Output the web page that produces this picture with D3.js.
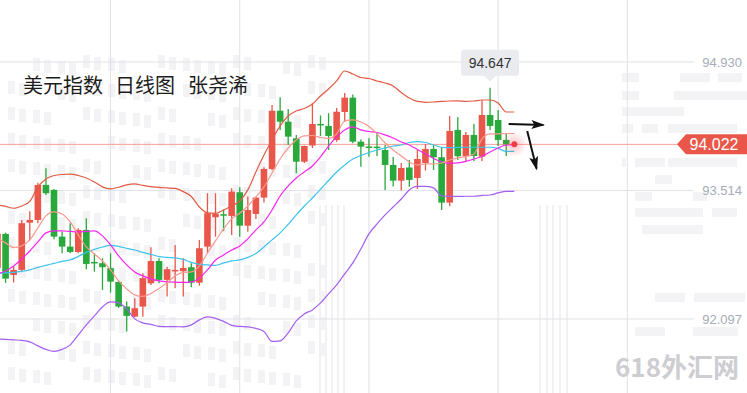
<!doctype html>
<html lang="zh">
<head>
<meta charset="utf-8">
<style>
  body { margin: 0; background: #fff; }
  svg { display: block; font-family: "Liberation Sans", Arial, sans-serif; }
</style>
</head>
<body>
<div id="chart"></div>
<script src="https://cdn.jsdelivr.net/npm/d3@7"></script>
<script>
  var width = 747, height = 393;

  // daily candles, oldest first (the first one is cut by the left edge)
  var opens = [92.660, 93.035, 92.583, 92.638, 93.159, 93.189, 93.575, 93.520, 93.005, 92.895,
    92.836, 93.079, 92.726, 92.712, 92.657, 92.506, 92.234, 92.123, 92.234, 92.491,
    92.737, 92.528, 92.627, 92.624, 92.668, 92.498, 92.895, 93.219, 93.252, 93.233,
    93.494, 93.126, 93.255, 93.435, 93.751, 94.393, 94.272, 94.089, 93.831, 94.010,
    94.247, 94.225, 94.071, 94.379, 94.537, 94.052, 93.999, 93.997, 93.960, 93.795,
    93.622, 93.767, 93.652, 93.817, 93.971, 93.880, 93.380, 94.181, 93.894, 94.126,
    93.887, 94.346, 94.291, 94.071];
  var highs = [93.079, 93.049, 92.674, 93.189, 93.285, 93.600, 93.759, 93.531, 93.060, 93.153,
    93.098, 93.208, 92.822, 92.767, 92.822, 92.517, 92.289, 92.326, 92.602, 92.888,
    92.767, 92.674, 92.914, 92.767, 92.712, 92.969, 93.483, 93.483, 93.305, 93.538,
    93.549, 93.446, 93.448, 93.770, 94.456, 94.541, 94.412, 94.126, 94.010, 94.475,
    94.340, 94.365, 94.423, 94.588, 94.572, 94.076, 94.089, 94.148, 94.015, 93.883,
    93.817, 93.850, 93.960, 94.026, 94.015, 93.993, 94.335, 94.324, 94.159, 94.247,
    94.506, 94.647, 94.401, 94.148];
  var lows = [92.616, 92.495, 92.498, 92.619, 92.961, 93.153, 93.464, 92.976, 92.822, 92.822,
    92.822, 92.646, 92.619, 92.418, 92.388, 92.219, 91.958, 92.116, 92.123, 92.473,
    92.491, 92.344, 92.436, 92.344, 92.447, 92.465, 92.822, 93.005, 93.068, 93.024,
    93.005, 93.060, 93.200, 93.380, 93.740, 94.181, 94.015, 93.704, 93.817, 93.982,
    94.115, 93.960, 94.052, 94.269, 94.034, 93.776, 93.886, 93.894, 93.520, 93.558,
    93.514, 93.556, 93.531, 93.734, 93.740, 93.299, 93.340, 93.850, 93.839, 93.839,
    93.839, 94.181, 94.004, 93.894];
  var closes = [93.035, 92.542, 92.638, 93.153, 93.189, 93.575, 93.483, 93.005, 92.895, 92.836,
    93.079, 92.704, 92.721, 92.668, 92.509, 92.234, 92.131, 92.216, 92.547, 92.737,
    92.528, 92.646, 92.638, 92.660, 92.498, 92.877, 93.263, 93.255, 93.236, 93.501,
    93.126, 93.299, 93.435, 93.751, 94.393, 94.272, 94.107, 93.831, 94.004, 94.247,
    94.236, 94.115, 94.382, 94.537, 94.052, 93.997, 93.988, 93.982, 93.795, 93.622,
    93.762, 93.630, 93.861, 93.971, 93.880, 93.380, 94.170, 93.891, 94.126, 93.894,
    94.346, 94.225, 94.071, 94.022];

  // indicator lines
  var ma5 = [92.991, 92.936, 92.886, 92.903, 92.969, 93.101, 93.233, 93.277, 93.255, 93.167,
    93.024, 92.891, 92.814, 92.737, 92.638, 92.517, 92.429, 92.363, 92.346, 92.379,
    92.434, 92.495, 92.572, 92.611, 92.616, 92.682, 92.825, 92.958, 93.090, 93.200,
    93.263, 93.343, 93.442, 93.553, 93.707, 93.861, 93.982, 94.071, 94.115, 94.120,
    94.098, 94.087, 94.137, 94.280, 94.291, 94.269, 94.219, 94.137, 94.037, 93.960,
    93.894, 93.828, 93.795, 93.806, 93.806, 93.817, 93.850, 93.872, 93.889, 93.916,
    94.082, 94.137, 94.137, 94.142];
  var ma10 = [92.594, 92.627, 92.682, 92.759, 92.847, 92.947, 93.046, 93.068, 93.068, 93.062,
    93.057, 93.062, 93.068, 93.013, 92.914, 92.792, 92.693, 92.616, 92.572, 92.539,
    92.517, 92.506, 92.503, 92.500, 92.506, 92.550, 92.638, 92.748, 92.803, 92.858,
    92.903, 92.980, 93.079, 93.167, 93.299, 93.453, 93.564, 93.652, 93.718, 93.784,
    93.883, 94.004, 94.104, 94.181, 94.214, 94.181, 94.164, 94.153, 94.126, 94.093,
    94.048, 94.015, 93.966, 93.916, 93.867, 93.828, 93.812, 93.817, 93.834, 93.861,
    93.889, 93.938, 93.982, 94.015];
  var bollUp = [93.354, 93.338, 93.318, 93.343, 93.393, 93.553, 93.641, 93.679, 93.690, 93.693,
    93.679, 93.652, 93.608, 93.553, 93.531, 93.549, 93.575, 93.586, 93.569, 93.556,
    93.547, 93.542, 93.536, 93.501, 93.448, 93.332, 93.266, 93.261, 93.299, 93.343,
    93.398, 93.520, 93.718, 93.905, 94.071, 94.225, 94.335, 94.390, 94.418, 94.467,
    94.555, 94.632, 94.721, 94.831, 94.798, 94.759, 94.748, 94.721, 94.699, 94.666,
    94.594, 94.533, 94.495, 94.486, 94.489, 94.495, 94.500, 94.502, 94.495, 94.500,
    94.511, 94.511, 94.478, 94.379];
  var bollMid = [92.602, 92.605, 92.611, 92.622, 92.638, 92.666, 92.688, 92.710, 92.732, 92.748,
    92.787, 92.831, 92.864, 92.891, 92.908, 92.897, 92.875, 92.858, 92.831, 92.809,
    92.785, 92.776, 92.770, 92.754, 92.721, 92.699, 92.693, 92.688, 92.715, 92.737,
    92.748, 92.776, 92.820, 92.891, 92.969, 93.046, 93.139, 93.244, 93.343, 93.431,
    93.525, 93.624, 93.718, 93.795, 93.861, 93.900, 93.933, 93.960, 93.982, 94.004,
    94.015, 94.043, 94.052, 94.043, 94.015, 93.990, 93.986, 93.988, 93.990, 93.990,
    93.990, 93.990, 93.977, 93.944];
  var bollLow = [91.878, 91.872, 91.867, 91.861, 91.845, 91.801, 91.762, 91.740, 91.762, 91.812,
    91.922, 92.032, 92.131, 92.230, 92.285, 92.274, 92.208, 92.098, 92.054, 92.038,
    92.015, 92.013, 92.013, 92.010, 92.032, 92.087, 92.120, 92.104, 92.071, 92.027,
    92.015, 92.010, 91.993, 91.960, 91.850, 91.856, 91.944, 92.076, 92.153, 92.197,
    92.274, 92.374, 92.473, 92.594, 92.715, 92.869, 93.035, 93.145, 93.244, 93.332,
    93.420, 93.520, 93.558, 93.558, 93.542, 93.453, 93.448, 93.448, 93.450, 93.450,
    93.459, 93.464, 93.487, 93.503];

  var axisTicks = [94.930, 93.514, 92.097];
  var gridIdx = [14, 30, 46, 62, 78];
  var lastPrice = 94.022;
  var peakIdx = 61, peakPrice = 94.647;

  var svg = d3.select('#chart').append('svg')
    .attr('width', width)
    .attr('height', height);

  var x = d3.scaleLinear().domain([0, 78]).range([-2.5, -2.5 + 78 * 8.075]);
  var y = d3.scaleLinear().domain([92.097, 94.930]).range([319, 62]);

  // faint city watermark behind the chart
  var deco = svg.append('g').attr('fill', '#f3f3f6');
  for (var r = 0; r < 13; r++) {
    for (var c = 0; c < 13; c++) {
      if ((r * 7 + c * 3) % 5 == 0) continue;
      deco.append('rect').attr('x', 8 + c * 25).attr('y', 55 + r * 26 + (c % 3) * 3)
        .attr('width', 7).attr('height', 13);
      deco.append('rect').attr('x', 19 + c * 25).attr('y', 57 + r * 26 + (c % 3) * 3)
        .attr('width', 7).attr('height', 13);
    }
  }
  var bars = [[622, 73, 17], [680, 73, 30], [718, 73, 24], [622, 91, 17], [674, 91, 73],
    [622, 107, 62], [622, 124, 11], [642, 124, 16], [668, 124, 69], [622, 158, 4],
    [635, 158, 30], [668, 158, 69], [655, 175, 17], [635, 192, 17], [693, 192, 14],
    [635, 208, 68], [712, 208, 25], [642, 225, 61], [655, 293, 30], [694, 293, 51],
    [635, 327, 30], [693, 327, 45]];
  deco.selectAll('rect.bar').data(bars).enter().append('rect')
    .attr('class', 'bar')
    .attr('x', d => d[0]).attr('y', d => d[1])
    .attr('width', d => d[2]).attr('height', 9);
  var cols = [320, 326, 332, 338, 344, 540, 547, 553, 560, 567];
  svg.append('g').selectAll('line').data(cols).enter().append('line')
    .attr('x1', d => d).attr('x2', d => d)
    .attr('y1', 205).attr('y2', height)
    .style('stroke', '#f1f1f4').style('stroke-width', 2);

  // grid
  svg.append('g').selectAll('line').data(gridIdx).enter().append('line')
    .attr('x1', d => x(d)).attr('x2', d => x(d))
    .attr('y1', 0).attr('y2', height)
    .style('stroke', '#e1e1e8').style('stroke-width', 1);
  svg.append('g').selectAll('line').data(axisTicks).enter().append('line')
    .attr('x1', 0).attr('x2', 694)
    .attr('y1', d => y(d)).attr('y2', d => y(d))
    .style('stroke', '#e1e1e8').style('stroke-width', 1);
  svg.append('g').selectAll('text').data(axisTicks).enter().append('text')
    .attr('x', 742).attr('y', d => y(d))
    .attr('text-anchor', 'end')
    .attr('dominant-baseline', 'central')
    .style('font-size', '13px')
    .style('fill', '#a7abb6')
    .text(d => d.toFixed(3));

  // last price line
  svg.append('line')
    .attr('x1', 0).attr('x2', 678)
    .attr('y1', y(lastPrice)).attr('y2', y(lastPrice))
    .style('stroke', '#f5a095').style('stroke-width', 1);

  // candles
  var idx = d3.range(closes.length);
  var up = '#e9564a', down = '#29a83c';
  var candles = svg.append('g').selectAll('g').data(idx).enter().append('g');
  candles.append('line')
    .attr('x1', i => x(i)).attr('x2', i => x(i))
    .attr('y1', i => y(highs[i])).attr('y2', i => y(lows[i]))
    .style('stroke', i => closes[i] >= opens[i] ? up : down)
    .style('stroke-width', 1.3);
  candles.append('rect')
    .attr('x', i => x(i) - 3.3)
    .attr('width', 6.6)
    .attr('y', i => y(Math.max(opens[i], closes[i])))
    .attr('height', i => Math.max(1.5, Math.abs(y(opens[i]) - y(closes[i]))))
    .style('fill', i => closes[i] >= opens[i] ? up : down);

  // indicator lines, each carried one slot past the last candle
  var series = [
    { values: bollUp, color: '#e25a43' },
    { values: bollLow, color: '#a35ef2' },
    { values: bollMid, color: '#3cc3ee' },
    { values: ma10, color: '#f725ee' },
    { values: ma5, color: '#f79a8e' }
  ];
  var line = d3.line()
    .x(d => x(d[0]))
    .y(d => y(d[1]))
    .curve(d3.curveMonotoneX);
  svg.append('g').selectAll('path').data(series).enter().append('path')
    .attr('d', s => {
      var pts = s.values.map((v, i) => [i, v]);
      pts.push([s.values.length, s.values[s.values.length - 1]]);
      return line(pts);
    })
    .style('fill', 'none')
    .style('stroke', s => s.color)
    .style('stroke-width', 1.2);

  // glowing dot at the current price
  var defs = svg.append('defs');
  var glow = defs.append('radialGradient').attr('id', 'glow');
  glow.append('stop').attr('offset', '0%').attr('stop-color', '#f5505a').attr('stop-opacity', 0.35);
  glow.append('stop').attr('offset', '100%').attr('stop-color', '#f5505a').attr('stop-opacity', 0);
  svg.append('circle')
    .attr('cx', x(closes.length)).attr('cy', y(lastPrice)).attr('r', 13)
    .style('fill', 'url(#glow)');
  svg.append('circle')
    .attr('cx', x(closes.length)).attr('cy', y(lastPrice)).attr('r', 3)
    .style('fill', '#f23b45');

  // price tag on the right
  var ty = y(lastPrice);
  svg.append('polygon')
    .attr('points', [[677, ty], [686, ty - 10], [747, ty - 10], [747, ty + 10], [686, ty + 10]].join(' '))
    .style('fill', '#e9564a');
  svg.append('text')
    .attr('x', 714).attr('y', ty + 0.5)
    .attr('text-anchor', 'middle')
    .attr('dominant-baseline', 'central')
    .style('font-size', '16px')
    .style('fill', '#fff')
    .text(lastPrice.toFixed(3));

  // tooltip over the highest candle
  var px = x(peakIdx), py = y(peakPrice);
  svg.append('path')
    .attr('d', 'M' + (px - 7) + ',' + (py - 13) + 'L' + px + ',' + (py - 6) + 'L' + (px + 7) + ',' + (py - 13) + 'Z')
    .style('fill', '#e9ebef');
  svg.append('rect')
    .attr('x', px - 29).attr('y', py - 38)
    .attr('width', 58).attr('height', 26)
    .attr('rx', 3)
    .style('fill', '#e9ebef');
  svg.append('text')
    .attr('x', px).attr('y', py - 25)
    .attr('text-anchor', 'middle')
    .attr('dominant-baseline', 'central')
    .style('font-size', '14px')
    .style('fill', '#333')
    .text(peakPrice.toFixed(3));

  // hand drawn arrows
  defs.append('marker')
    .attr('id', 'head')
    .attr('viewBox', '0 -5 14 10')
    .attr('refX', 12).attr('refY', 0)
    .attr('markerUnits', 'userSpaceOnUse')
    .attr('markerWidth', 14).attr('markerHeight', 10)
    .attr('orient', 'auto')
    .append('path')
    .attr('d', 'M0,-4.5L14,0L0,4.5L3,0Z')
    .style('fill', '#111');
  var arrows = [
    [[63.3, 94.247], [67.6, 94.236]],
    [[65.6, 94.170], [66.75, 93.756]]
  ];
  svg.append('g').selectAll('line').data(arrows).enter().append('line')
    .attr('x1', d => x(d[0][0])).attr('y1', d => y(d[0][1]))
    .attr('x2', d => x(d[1][0])).attr('y2', d => y(d[1][1]))
    .style('stroke', '#111')
    .style('stroke-width', 2)
    .attr('marker-end', 'url(#head)');

  // title
  var title = svg.append('g')
    .style('font-family', '"Noto Sans CJK SC", sans-serif')
    .style('font-size', '20px')
    .style('fill', '#1c1c1c');
  title.append('text').attr('x', 23).attr('y', 93).text('美元指数');
  title.append('text').attr('x', 115).attr('y', 93).text('日线图');
  title.append('text').attr('x', 188).attr('y', 93).text('张尧浠');

  // site watermark
  svg.append('text')
    .attr('x', 615).attr('y', 377)
    .style('font-family', '"Noto Sans CJK SC", sans-serif')
    .style('font-size', '26px')
    .style('font-weight', 'bold')
    .style('fill', '#cdcdd2')
    .text('618外汇网');
</script>
</body>
</html>
